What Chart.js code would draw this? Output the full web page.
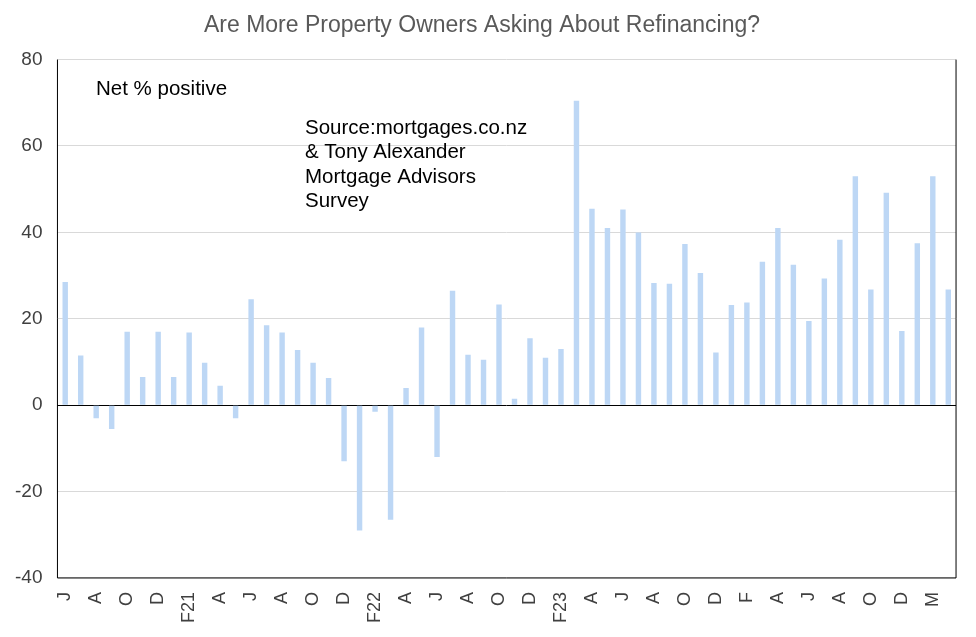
<!DOCTYPE html>
<html>
<head>
<meta charset="utf-8">
<script src="https://cdn.jsdelivr.net/npm/chart.js@4"></script>
<style>
  body { margin: 0; background: #fff; }
  #wrap { width: 976px; height: 637px; }
</style>
</head>
<body>
<div id="wrap"><canvas id="grafica"></canvas></div>
<script>
// Tick labels, one every two bars
const tickLabels = ['J','A','O','D','F21','A','J','A','O','D','F22','A','J','A','O','D','F23','A','J','A','O','D','F','A','J','A','O','D','M'];

// Net % positive, one per survey
const valores = [28.5, 11.5, -3, -5.5, 17, 6.5, 17, 6.5, 16.8, 9.8, 4.5, -3, 24.5, 18.5, 16.8, 12.8, 9.8, 6.3,
  -13, -29, -1.5, -26.5, 4, 18, -12, 26.5, 11.7, 10.5, 23.3, 1.5, 15.5, 11, 13, 70.5, 45.5, 41, 45.3, 40,
  28.3, 28.1, 37.3, 30.6, 12.2, 23.2, 23.8, 33.2, 41, 32.5, 19.5, 29.3, 38.3, 53, 26.8, 49.2, 17.2, 37.5, 53, 26.8];

let categorias = valores.map((v, i) => i % 2 === 0 ? tickLabels[i / 2] : '');

// 🔹 Textos y marco del área de gráfico
const textos = {
    id: 'textos',
    afterDraw(chart) {
        const { ctx, chartArea: a } = chart;
        ctx.save();
        ctx.strokeStyle = '#000';
        ctx.lineWidth = 1;
        ctx.beginPath();
        ctx.moveTo(a.left, a.top);
        ctx.lineTo(a.left, a.bottom);
        ctx.lineTo(a.right, a.bottom);
        ctx.lineTo(a.right, a.top);
        ctx.stroke();
        ctx.fillStyle = '#000';
        ctx.font = '20.5px "Liberation Sans", Arial';
        ctx.textBaseline = 'middle';
        ctx.fillText('Net % positive', 96, 89);
        ['Source:mortgages.co.nz', '& Tony Alexander', 'Mortgage Advisors', 'Survey'].forEach((t, i) => {
            ctx.fillText(t, 305, 128 + i * 24.5);
        });
        ctx.restore();
    }
};

new Chart(document.getElementById('grafica'), {
    type: 'bar',
    data: {
        labels: categorias,
        datasets: [{
            data: valores,
            backgroundColor: '#bdd7f5',
            barPercentage: 0.35,
            categoryPercentage: 1
        }]
    },
    options: {
        responsive: true,
        maintainAspectRatio: false,
        animation: false,
        layout: { padding: { left: 0, right: 12, top: 0, bottom: 8 } },
        plugins: {
            legend: { display: false },
            tooltip: { enabled: false },
            title: {
                display: true,
                text: 'Are More Property Owners Asking About Refinancing?',
                color: '#595959',
                font: { family: '"Liberation Sans", Arial', size: 23, weight: 'normal' },
                padding: { top: 12, bottom: 20 }
            }
        },
        scales: {
            x: {
                grid: { display: false },
                border: { display: false },
                ticks: {
                    autoSkip: false,
                    maxRotation: 90,
                    minRotation: 90,
                    padding: 6,
                    color: '#404040',
                    font: { family: '"Liberation Sans", Arial', size: 18 }
                }
            },
            y: {
                min: -40,
                max: 80,
                ticks: {
                    stepSize: 20,
                    padding: 15,
                    color: '#404040',
                    font: { family: '"Liberation Sans", Arial', size: 19 }
                },
                border: { display: false },
                grid: {
                    drawTicks: false,
                    color: ctx => ctx.tick.value === 0 ? '#000' : '#d9d9d9'
                }
            }
        }
    },
    plugins: [textos]
});
</script>
</body>
</html>
